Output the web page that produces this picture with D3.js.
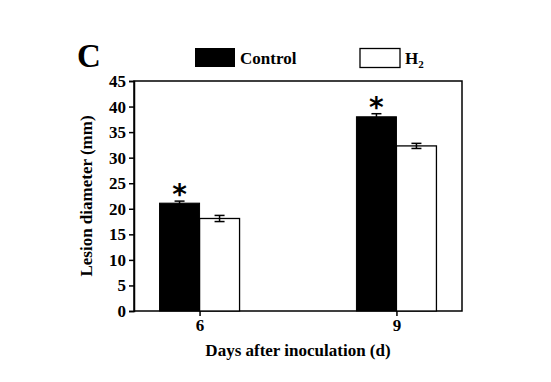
<!DOCTYPE html>
<html><head><meta charset="utf-8">
<script src="https://cdn.jsdelivr.net/npm/d3@7"></script>
<style>body{margin:0;background:#fff}svg{display:block}text{font-family:"Liberation Serif","Times New Roman",serif;font-weight:bold;fill:#000}</style>
</head><body><svg id="c" width="551" height="382"></svg>
<script>
const days = [6, 9];
const series = ["Control", "H2"];
const controlValues = [21.1, 38.0];
const controlErrors = [0.4, 0.6];
const h2Values = [18.1, 32.3];
const h2Errors = [0.6, 0.5];
const yTicks = [0,5,10,15,20,25,30,35,40,45];
const significant = [true, true];

const svg = d3.select("#c");
const L = 134, R = 462, T = 81, B = 311;
const x = d3.scalePoint().domain(days).range([L, R]).padding(0.333);
const y = d3.scaleLinear().domain([0, 45]).range([B, T]);
const bw = 40;

svg.append("rect").attr("x", L).attr("y", T).attr("width", R-L).attr("height", B-T)
  .attr("fill", "none").attr("stroke", "#000").attr("stroke-width", 1.5);

const data = days.map((d,i)=>({d, c:controlValues[i], ce:controlErrors[i], h:h2Values[i], he:h2Errors[i], s:significant[i]}));

const g = svg.append("g");
data.forEach(o=>{
  g.append("rect").attr("x", x(o.d)).attr("y", y(o.h)).attr("width", bw).attr("height", y(0)-y(o.h))
    .attr("fill","#fff").attr("stroke","#000").attr("stroke-width",1.3);
  g.append("rect").attr("x", x(o.d)-bw).attr("y", y(o.c)).attr("width", bw).attr("height", y(0)-y(o.c))
    .attr("fill","#000").attr("stroke","#000").attr("stroke-width",1);
  const err = (cx, v, e) => {
    const cap = 5;
    g.append("line").attr("x1",cx).attr("x2",cx).attr("y1",y(v+e)).attr("y2",y(v-e)).attr("stroke","#000").attr("stroke-width",1.5);
    [v+e, v-e].forEach(vv=>g.append("line").attr("x1",cx-cap).attr("x2",cx+cap).attr("y1",y(vv)).attr("y2",y(vv)).attr("stroke","#000").attr("stroke-width",1.5));
  };
  err(x(o.d)-bw/2, o.c, o.ce);
  err(x(o.d)+bw/2, o.h, o.he);
  if (o.s) g.append("text").attr("x", x(o.d)-bw/2).attr("y", y(o.c+o.ce)+3).attr("text-anchor","middle")
    .style("font-size","28px").style("font-weight","bold").style("font-family","'DejaVu Sans',sans-serif").text("*");
});

const ya = svg.append("g").attr("transform",`translate(${L},0)`)
  .call(d3.axisLeft(y).tickValues(yTicks).tickSize(5).tickPadding(3));
ya.select(".domain").attr("stroke-width",1.5);
ya.selectAll(".tick line").attr("stroke-width",1.5);
ya.selectAll("text").style("font-size","17px");

const xa = svg.append("g").attr("transform",`translate(0,${B})`)
  .call(d3.axisBottom(x).tickSize(5).tickPadding(3));
xa.select(".domain").remove();
xa.selectAll(".tick line").attr("stroke-width",1.5);
xa.selectAll("text").style("font-size","17px");

svg.append("text").attr("transform",`translate(92,${(T+B)/2}) rotate(-90)`).attr("text-anchor","middle")
  .style("font-size","17px").text("Lesion diameter (mm)");
svg.append("text").attr("x", (L+R)/2).attr("y", 356).attr("text-anchor","middle")
  .style("font-size","17px").text("Days after inoculation (d)");

svg.append("text").attr("x", 77).attr("y", 67).style("font-size","33px").text("C");

svg.append("rect").attr("x",195).attr("y",48).attr("width",40).attr("height",19).attr("fill","#000");
svg.append("text").attr("x",240).attr("y",64).style("font-size","17px").text("Control");
svg.append("rect").attr("x",360).attr("y",48.5).attr("width",40).attr("height",19).attr("fill","#fff").attr("stroke","#000").attr("stroke-width",1.3);
const h2t = svg.append("text").attr("x",405).attr("y",64).style("font-size","17px");
h2t.append("tspan").text("H");
h2t.append("tspan").attr("dy",4).style("font-size","11px").text("2");
</script></body></html>
